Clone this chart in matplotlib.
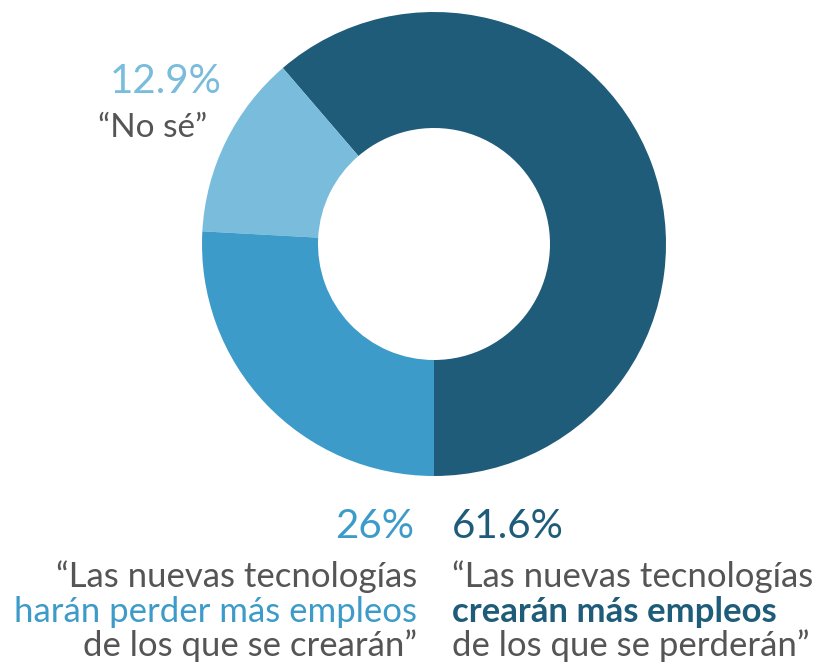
import matplotlib
matplotlib.use("Agg")
import matplotlib.pyplot as plt

values = [61.6, 12.9, 26.0]
labels = ["61.6%", "12.9%", "26%"]
colors = ["#1f5c7a", "#79bcdc", "#3d9bc9"]
gray = "#555555"
FONT = "Lato"

W, H = 818, 668
fig = plt.figure(figsize=(W / 100, H / 100), dpi=100)
cx, cy, r = 434, 244, 232
ax = fig.add_axes([(cx - r) / W, (H - cy - r) / H, 2 * r / W, 2 * r / H])
ax.pie(values, colors=colors, startangle=-90, counterclock=True, radius=1,
       wedgeprops=dict(width=0.5, linewidth=0))
ax.set_xlim(-1, 1)
ax.set_ylim(-1, 1)
ax.set_aspect("equal")
ax.axis("off")

def t(x, y, s, ha="left", color=gray, size=24, weight="normal"):
    fig.text(x / W, 1 - y / H, s, ha=ha, va="baseline", color=color,
             fontsize=size, fontweight=weight, family=FONT)

# top-left
t(166, 93, labels[1], ha="center", color=colors[1], size=29)
t(153, 137, "\u201cNo s\u00e9\u201d", ha="center", size=24)

# bottom-left
t(414, 538, labels[2], ha="right", color=colors[2], size=29)
t(417, 587, "\u201cLas nuevas tecnolog\u00edas", ha="right", size=25)
t(417, 622, "har\u00e1n perder m\u00e1s empleos", ha="right", color=colors[2], size=25)
t(417, 656, "de los que se crear\u00e1n\u201d", ha="right", size=25)

# bottom-right
t(452, 538, labels[0], ha="left", color=colors[0], size=29)
t(452, 587, "\u201cLas nuevas tecnolog\u00edas", ha="left", size=25)
t(452, 622, "crear\u00e1n m\u00e1s empleos", ha="left", color=colors[0], size=25, weight="bold")
t(452, 656, "de los que se perder\u00e1n\u201d", ha="left", size=25)

fig.savefig("out.png", dpi=100)
